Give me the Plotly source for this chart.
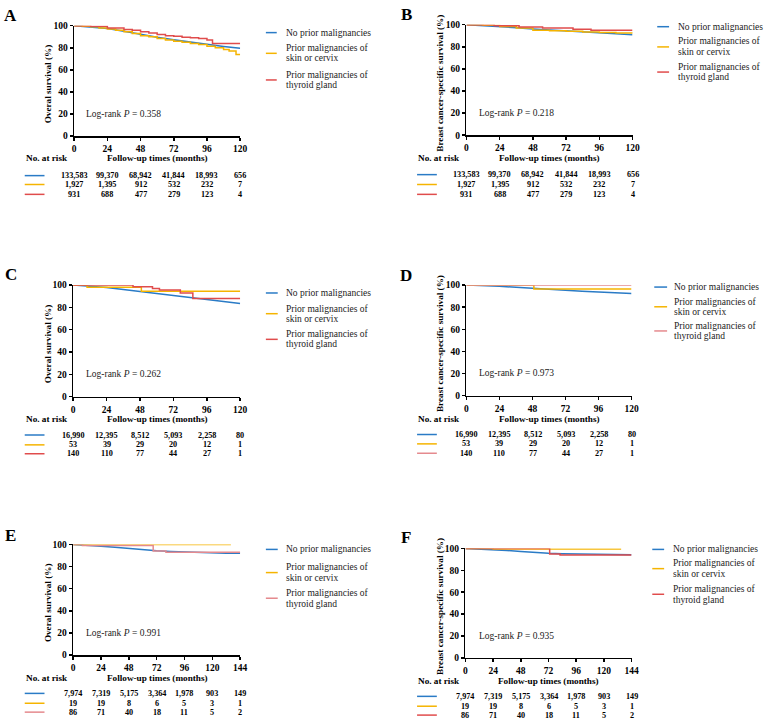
import plotly.graph_objects as go

W, H = 767, 727
FONT = "Liberation Serif"
BLUE, ORANGE, RED, PINK = "#2a7bc6", "#f5b400", "#e04c4c", "#e58a8e"

# ---------------- data ----------------
# Panel A: overall survival
A_blue_t = [0, 12, 24, 36, 48, 60, 72, 84, 96, 108, 120]
A_blue_s = [100, 99, 97.5, 95, 92, 89.5, 87.2, 85, 83, 81.2, 79.5]
A_orange_t = [0, 6, 12, 18, 24, 30, 36, 42, 48, 54, 60, 66, 72, 78, 84, 90, 96, 102, 108, 112, 117, 120]
A_orange_s = [100, 99.5, 99, 98, 97, 96, 94.5, 93, 91, 90, 88.5, 87, 86, 85, 84, 83, 81.5, 80, 78.5, 77, 74, 74]
A_red_t = [0, 12, 24, 36, 42, 48, 54, 60, 66, 72, 78, 84, 90, 96, 100, 120]
A_red_s = [100, 99.5, 98, 96.5, 96, 94.5, 93.5, 92, 91, 90.5, 89.5, 89, 88.5, 87, 84, 84]
# Panel B: breast cancer-specific survival
B_blue_t = [0, 12, 24, 36, 48, 60, 72, 84, 96, 108, 120]
B_blue_s = [100, 99.3, 98.5, 97.3, 96.2, 95.2, 94.3, 93.5, 92.7, 91.8, 91]
B_orange_t = [0, 12, 24, 36, 48, 60, 72, 84, 96, 108, 120]
B_orange_s = [100, 99.5, 98.5, 97, 95, 94.5, 94, 93.5, 93, 92.5, 92]
B_red_t = [0, 20, 38, 55, 77, 90, 120]
B_red_s = [100, 99, 98, 97, 96, 95, 95]
# Panel C: overall survival
C_blue_t = [0, 12, 24, 36, 48, 60, 72, 84, 96, 108, 120]
C_blue_s = [100, 99, 97.8, 96, 94.3, 92.5, 90.5, 89, 87.5, 85.5, 83.5]
C_orange_t = [0, 10, 49, 120]
C_orange_s = [100, 98, 94.5, 94.5]
C_red_t = [0, 43, 57, 62, 77, 86, 120]
C_red_s = [100, 98.5, 97, 95.5, 93, 88, 88]
# Panel D: breast cancer-specific survival
D_blue_t = [0, 12, 24, 36, 48, 60, 72, 84, 96, 108, 120]
D_blue_s = [100, 99.6, 99, 98, 97, 96, 95.3, 94.5, 93.7, 93, 92.3]
D_orange_t = [0, 49, 120]
D_orange_s = [100, 96.5, 96.5]
D_red_t = [0, 120]
D_red_s = [100, 100]
# Panel E: overall survival
E_blue_t = [0, 12, 24, 36, 48, 60, 72, 84, 96, 108, 120, 132, 144]
E_blue_s = [100, 99.5, 98.5, 97.5, 96.3, 95.3, 94.3, 93.7, 93.2, 92.8, 92.3, 92, 92]
E_orange_t = [0, 136]
E_orange_s = [100, 100]
E_red_t = [0, 8, 69, 80, 144]
E_red_s = [100, 99, 94, 93, 93]
# Panel F: breast cancer-specific survival
F_blue_t = [0, 12, 24, 36, 48, 60, 72, 84, 96, 108, 120, 132, 144]
F_blue_s = [100, 99.6, 99, 98.2, 97.2, 96.3, 95.6, 95.2, 95, 94.8, 94.5, 94.3, 94.2]
F_orange_t = [0, 24, 135]
F_orange_s = [100, 99.5, 99.5]
F_red_t = [0, 73, 82, 144]
F_red_s = [100, 95, 94, 94]

ticks120 = [0, 24, 48, 72, 96, 120]
ticks144 = [0, 24, 48, 72, 96, 120, 144]

risk_A = [["133,583", "99,370", "68,942", "41,844", "18,993", "656"],
          ["1,927", "1,395", "912", "532", "232", "7"],
          ["931", "688", "477", "279", "123", "4"]]
risk_C = [["16,990", "12,395", "8,512", "5,093", "2,258", "80"],
          ["53", "39", "29", "20", "12", "1"],
          ["140", "110", "77", "44", "27", "1"]]
risk_E = [["7,974", "7,319", "5,175", "3,364", "1,978", "903", "149"],
          ["19", "19", "8", "6", "5", "3", "1"],
          ["86", "71", "40", "18", "11", "5", "2"]]

legend_lines = [["No prior malignancies"],
                ["Prior malignancies of", "skin or cervix"],
                ["Prior malignancies of", "thyroid gland"]]

OS_TITLE = "Overal survival (%)"
BCSS_TITLE = "Breast cancer-specific survival (%)"

# ---------------- layout geometry (pixels) ----------------
panels = [
    dict(label="A", curves=[(A_blue_t, A_blue_s, "linear"), (A_orange_t, A_orange_s, "hv"), (A_red_t, A_red_s, "hv")],
         colors=[BLUE, ORANGE, RED], ticks=ticks120, risk=risk_A, ytitle=OS_TITLE, p="0.358",
         x0=73, x1=241, ytop=21, ybot=133, ytx=46, lab=(9, 11), fu_y=155, fu_x=157,
         nar_x=23, rows=[173, 182, 192], leg_line=(267, 278), leg_tx=285,
         leg_y=[[28], [44, 54], [71, 81]], lr=(83, 111)),
    dict(label="B", curves=[(B_blue_t, B_blue_s, "linear"), (B_orange_t, B_orange_s, "hv"), (B_red_t, B_red_s, "hv")],
         colors=[BLUE, ORANGE, RED], ticks=ticks120, risk=risk_A, ytitle=BCSS_TITLE, p="0.218",
         x0=470, x1=638, ytop=20, ybot=132, ytx=443, lab=(409, 10), fu_y=155, fu_x=554,
         nar_x=420, rows=[172, 182, 192], leg_line=(663, 675), leg_tx=682,
         leg_y=[[22], [37, 48], [63, 73]], lr=(481, 110)),
    dict(label="C", curves=[(C_blue_t, C_blue_s, "linear"), (C_orange_t, C_orange_s, "hv"), (C_red_t, C_red_s, "hv")],
         colors=[BLUE, ORANGE, RED], ticks=ticks120, risk=risk_C, ytitle=OS_TITLE, p="0.262",
         x0=72, x1=241, ytop=284, ybot=397, ytx=46, lab=(9, 273), fu_y=420, fu_x=157,
         nar_x=23, rows=[436, 446, 455], leg_line=(267, 279), leg_tx=285,
         leg_y=[[292], [308, 318], [334, 344]], lr=(83, 374)),
    dict(label="D", curves=[(D_blue_t, D_blue_s, "linear"), (D_orange_t, D_orange_s, "hv"), (D_red_t, D_red_s, "hv")],
         colors=[BLUE, ORANGE, PINK], ticks=ticks120, risk=risk_C, ytitle=BCSS_TITLE, p="0.973",
         x0=470, x1=637, ytop=284, ybot=396, ytx=443, lab=(409, 274), fu_y=419.5, fu_x=554,
         nar_x=420, rows=[435.5, 445, 454.5], leg_line=(660, 673), leg_tx=678,
         leg_y=[[286], [301, 311], [325, 336]], lr=(481, 373)),
    dict(label="E", curves=[(E_blue_t, E_blue_s, "linear"), (E_orange_t, E_orange_s, "hv"), (E_red_t, E_red_s, "hv")],
         colors=[BLUE, ORANGE, PINK], ticks=ticks144, risk=risk_E, ytitle=OS_TITLE, p="0.991",
         x0=72, x1=241, ytop=547, ybot=659, ytx=46, lab=(9, 538), fu_y=682, fu_x=157,
         nar_x=23, rows=[698, 708, 717], leg_line=(267, 279), leg_tx=285,
         leg_y=[[552], [570, 581], [596, 607]], lr=(83, 637)),
    dict(label="F", curves=[(F_blue_t, F_blue_s, "linear"), (F_orange_t, F_orange_s, "hv"), (F_red_t, F_red_s, "hv")],
         colors=[BLUE, ORANGE, RED], ticks=ticks144, risk=risk_E, ytitle=BCSS_TITLE, p="0.935",
         x0=469, x1=637, ytop=551, ybot=662, ytx=443, lab=(409, 540), fu_y=685, fu_x=553,
         nar_x=420, rows=[701, 711, 720], leg_line=(658, 670), leg_tx=677,
         leg_y=[[552], [566, 577], [592, 603]], lr=(481, 640)),
]


def px(x):
    return x / W


def py(y):
    return 1 - y / H


fig = go.Figure()
annotations, shapes, layout = [], [], {}

for i, pn in enumerate(panels):
    k = "" if i == 0 else str(i + 1)
    xa, ya = "x" + k, "y" + k
    xmax = pn["ticks"][-1]
    for (t, s, shape), col in zip(pn["curves"], pn["colors"]):
        fig.add_trace(go.Scatter(x=t, y=s, mode="lines", line=dict(color=col, width=1.5, shape=shape),
                                 xaxis=xa, yaxis=ya, showlegend=False, hoverinfo="skip"))
    common = dict(showline=True, linecolor="black", linewidth=1.6, ticks="outside", ticklen=3, tickwidth=1.5,
                  tickcolor="black", showgrid=False, zeroline=False,
                  tickfont=dict(family=FONT, size=9.5, color="black", weight="bold"))
    layout["xaxis" + k] = dict(domain=[px(pn["x0"]), px(pn["x1"])], range=[0, xmax], tickvals=pn["ticks"],
                               anchor=ya, fixedrange=True, **common)
    layout["yaxis" + k] = dict(domain=[py(pn["ybot"]), py(pn["ytop"])], range=[0, 100],
                               tickvals=[0, 20, 40, 60, 80, 100], anchor=xa, fixedrange=True, **common)

    # panel label
    annotations.append(dict(text=pn["label"], x=px(pn["lab"][0]), y=py(pn["lab"][1]), xref="paper", yref="paper",
                            showarrow=False, xanchor="center", yanchor="middle",
                            font=dict(family=FONT, size=17, color="black", weight="bold")))
    # y title
    annotations.append(dict(text=pn["ytitle"], x=px(pn["ytx"]), y=py((pn["ytop"] + pn["ybot"]) / 2 + 3),
                            xref="paper", yref="paper", showarrow=False, textangle=-90,
                            xanchor="center", yanchor="middle",
                            font=dict(family=FONT, size=9.2, color="black", weight="bold")))
    # x title
    annotations.append(dict(text="Follow-up times (months)", x=px(pn["fu_x"]), y=py(pn["fu_y"]), xref="paper",
                            yref="paper", showarrow=False, xanchor="center", yanchor="middle", borderpad=0,
                            font=dict(family=FONT, size=9.2, color="black", weight="bold")))
    annotations.append(dict(text="No. at risk", x=px(pn["nar_x"]), y=py(pn["fu_y"]), xref="paper",
                            yref="paper", showarrow=False, xanchor="left", yanchor="middle", borderpad=0,
                            font=dict(family=FONT, size=9.2, color="black", weight="bold")))
    # log-rank
    annotations.append(dict(text="Log-rank <i>P</i> = " + pn["p"], x=px(pn["lr"][0]), y=py(pn["lr"][1]),
                            xref="paper", yref="paper", showarrow=False, xanchor="left", yanchor="middle",
                            font=dict(family=FONT, size=9.5, color="#222222")))
    # risk table
    for r, (row, col) in enumerate(zip(pn["risk"], pn["colors"])):
        yr = pn["rows"][r]
        shapes.append(dict(type="line", xref="paper", yref="paper", x0=px(pn["nar_x"]), x1=px(pn["nar_x"] + 20),
                           y0=py(yr), y1=py(yr), line=dict(color=col, width=1.5)))
        for tv, val in zip(pn["ticks"], row):
            annotations.append(dict(text=val, x=tv, y=py(yr), xref=xa, yref="paper", showarrow=False,
                                    xanchor="center", yanchor="middle", borderpad=0,
                                    font=dict(family=FONT, size=8.2, color="black", weight="bold")))
    # legend (drawn manually)
    for e, (lines, col) in enumerate(zip(legend_lines, pn["colors"])):
        ys = pn["leg_y"][e]
        ymid = sum(ys) / len(ys)
        shapes.append(dict(type="line", xref="paper", yref="paper", x0=px(pn["leg_line"][0]),
                           x1=px(pn["leg_line"][1]), y0=py(ymid), y1=py(ymid), line=dict(color=col, width=1.5)))
        for txt, yy in zip(lines, ys):
            annotations.append(dict(text=txt, x=px(pn["leg_tx"]), y=py(yy), xref="paper", yref="paper",
                                    showarrow=False, xanchor="left", yanchor="middle",
                                    font=dict(family=FONT, size=9.5, color="#222222")))

fig.update_layout(width=W, height=H, margin=dict(l=0, r=0, t=0, b=0), paper_bgcolor="white",
                  plot_bgcolor="white", annotations=annotations, shapes=shapes, showlegend=False, **layout)

fig.write_html("out.html", config={"displayModeBar": False, "staticPlot": True},
               post_script="document.body.style.margin='0';document.body.style.padding='0';"
                           "document.body.style.overflow='hidden';")
